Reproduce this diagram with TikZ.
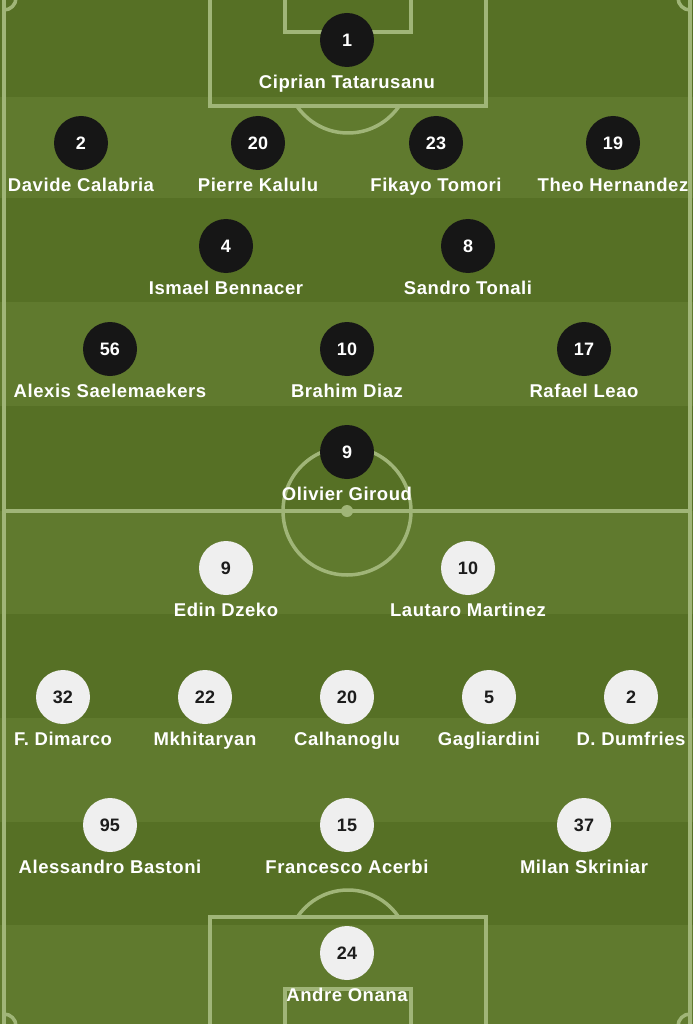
\documentclass[tikz,border=0pt]{standalone}
\usepackage{fontspec}
\setmainfont{Liberation Sans}
\newfontfamily\namefont[LetterSpace=3]{Liberation Sans}
\definecolor{darkg}{RGB}{86,112,37}
\definecolor{lightg}{RGB}{96,122,46}
\definecolor{lineg}{RGB}{160,181,120}
\definecolor{blackc}{RGB}{22,22,22}
\definecolor{whitec}{RGB}{239,239,239}
\definecolor{numc}{RGB}{28,28,28}
\newcommand\plyr[6]{%
  \node[#6] (#1) at (#2,#3) {#4};
  \node[pname] (#1n) at (#2,#3+48.5) {#5};}
\begin{document}
\begin{tikzpicture}[x=1pt,y=-1pt,
  pline/.style={draw=lineg, line width=3.5pt},
  milan/.style={circle, fill=blackc, minimum size=54pt, inner sep=0pt, text=white, font=\bfseries\fontsize{18}{18}\selectfont},
  inter/.style={circle, fill=whitec, minimum size=54pt, inner sep=0pt, text=numc, font=\bfseries\fontsize{18}{18}\selectfont},
  pname/.style={anchor=base, text=white, inner sep=0pt, font=\namefont\bfseries\fontsize{18.5}{18.5}\selectfont}]
\useasboundingbox (0,0) rectangle (693,1024);
\begin{scope}
\clip (0,0) rectangle (693,1024);
% stripes
\fill[darkg] (0,0) rectangle (693,1024);
\fill[lightg] (0,97) rectangle (693,198);
\fill[lightg] (0,302) rectangle (693,406);
\fill[lightg] (0,511) rectangle (693,614);
\fill[lightg] (0,718) rectangle (693,822);
\fill[lightg] (0,925) rectangle (693,1024);
% pitch lines
\draw[pline] (4,-2) rectangle (690,1026);
\draw[pline] (4,511) -- (690,511);
\draw[pline] (347,511) circle[radius=64];
\fill[lineg] (347,511) circle[radius=6];
\draw[pline] (210,-2) rectangle (486,106);
\draw[pline] (285,-2) rectangle (411,32);
\draw[pline] (210,917) rectangle (486,1026);
\draw[pline] (285,989) rectangle (411,1026);
\begin{scope}
\clip (0,106) rectangle (693,200);
\draw[pline] (348,71) circle[radius=62];
\end{scope}
\begin{scope}
\clip (0,850) rectangle (693,917);
\draw[pline] (348,951) circle[radius=61];
\end{scope}
\draw[pline] (16,-2) arc[start angle=0, end angle=90, radius=12];
\draw[pline] (690,10) arc[start angle=90, end angle=180, radius=12];
\draw[pline] (4,1014) arc[start angle=270, end angle=360, radius=12];
\draw[pline] (678,1026) arc[start angle=180, end angle=270, radius=12];
\end{scope}
% Milan
\plyr{m1}{347}{40}{1}{Ciprian Tatarusanu}{milan}
\plyr{m2}{81}{143}{2}{Davide Calabria}{milan}
\plyr{m20}{258}{143}{20}{Pierre Kalulu}{milan}
\plyr{m23}{436}{143}{23}{Fikayo Tomori}{milan}
\plyr{m19}{613}{143}{19}{Theo Hernandez}{milan}
\plyr{m4}{226}{246}{4}{Ismael Bennacer}{milan}
\plyr{m8}{468}{246}{8}{Sandro Tonali}{milan}
\plyr{m56}{110}{349}{56}{Alexis Saelemaekers}{milan}
\plyr{m10}{347}{349}{10}{Brahim Diaz}{milan}
\plyr{m17}{584}{349}{17}{Rafael Leao}{milan}
\plyr{m9}{347}{452}{9}{Olivier Giroud}{milan}
% Inter
\plyr{i9}{226}{568}{9}{Edin Dzeko}{inter}
\plyr{i10}{468}{568}{10}{Lautaro Martinez}{inter}
\plyr{i32}{63}{697}{32}{F. Dimarco}{inter}
\plyr{i22}{205}{697}{22}{Mkhitaryan}{inter}
\plyr{i20}{347}{697}{20}{Calhanoglu}{inter}
\plyr{i5}{489}{697}{5}{Gagliardini}{inter}
\plyr{i2}{631}{697}{2}{D. Dumfries}{inter}
\plyr{i95}{110}{825}{95}{Alessandro Bastoni}{inter}
\plyr{i15}{347}{825}{15}{Francesco Acerbi}{inter}
\plyr{i37}{584}{825}{37}{Milan Skriniar}{inter}
\plyr{i24}{347}{953}{24}{Andre Onana}{inter}
\end{tikzpicture}
\end{document}
